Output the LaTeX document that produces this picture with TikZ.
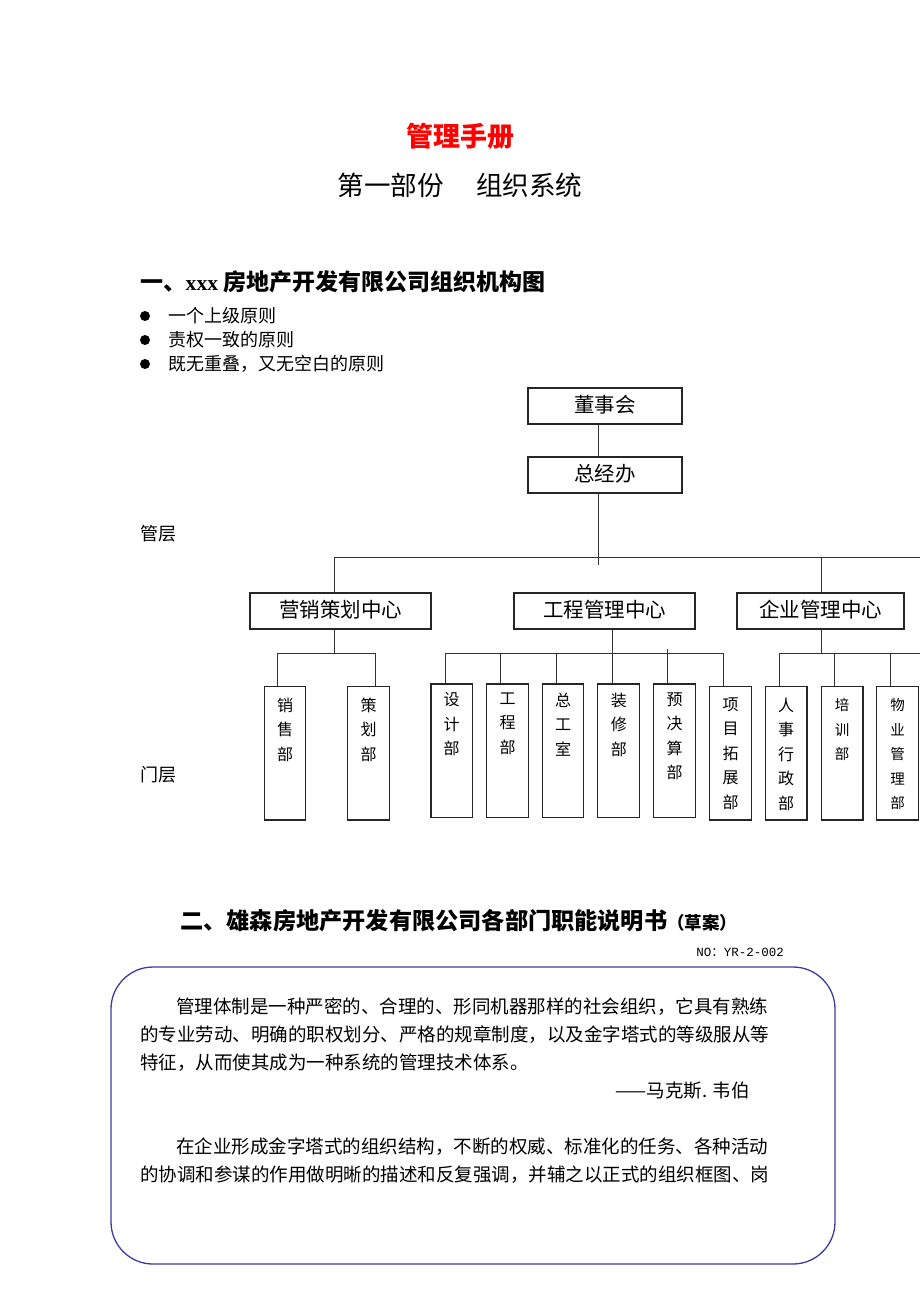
\documentclass[tikz,border=0pt]{standalone}
\usepackage{fontspec}
\setmainfont{Liberation Serif}
\newfontfamily\cjk{Noto Sans CJK SC}
\newfontfamily\monof{Liberation Mono}
\definecolor{boxblue}{RGB}{60,60,160}
\definecolor{titlered}{RGB}{255,0,0}
\tikzset{
  bx/.style={draw=black!85, line width=1.2pt, inner sep=0pt},
  cl/.style={draw=black!80, line width=1pt},
  vt/.style={font=\cjk\fontsize{16}{24.5}\selectfont, align=center, inner sep=0pt, anchor=north},
  vts/.style={font=\cjk\fontsize{14.5}{24.5}\selectfont, align=center, inner sep=0pt, anchor=north},
  ct/.style={font=\cjk\fontsize{20.5}{24}\selectfont, inner sep=0pt},
  bt/.style={font=\cjk\fontsize{18.5}{24}\selectfont, inner sep=0pt, anchor=base west},
  lt/.style={font=\cjk\fontsize{18}{24}\selectfont, inner sep=0pt, anchor=base west},
}
\newcommand\bxnode[6]{%
  \node[bx, minimum width={#4-#2}, minimum height={#5-#3}, #6] (#1) at ({(#2+#4)/2},{(#3+#5)/2}) {};}
\newcommand\dept[8]{%
  \bxnode{#1}{#2}{#3}{#4}{#5}{}
  \node[#8] (#1t) at ({(#2+#4)/2},#7) {#6};}
\begin{document}
\begin{tikzpicture}[x=1pt,y=-1pt]
\useasboundingbox (0,0) rectangle (920,1302);
\fill[white] (0,0) rectangle (920,1302);

% titles
\node[font=\cjk\bfseries\fontsize{27}{30}\selectfont, text=titlered, inner sep=0pt] (title) at (460,136) {管理手册};
\node[font=\cjk\fontsize{26.6}{30}\selectfont, inner sep=0pt] (sub) at (460,185) {第一部份\hspace{32pt}组织系统};

\node[font=\cjk\bfseries\fontsize{23}{26}\selectfont, inner sep=0pt, anchor=base west] (h1) at (140,290)
  {一、\hspace{-0.5pt}{\rmfamily\bfseries\fontsize{21.6}{26}\selectfont xxx}\hspace{5pt}房地产开发有限公司组织机构图};

% bullets
\foreach \yy/\tx [count=\i] in {316/一个上级原则,340/责权一致的原则,364/{既无重叠，又无空白的原则}}{
  \fill (145,\yy) circle (5pt);
  \node[lt] (b\i) at (168,\yy+6.8) {\tx};
}

% side labels
\node[lt] (lg) at (140,540.5) {管层};
\node[lt] (lm) at (140,781.5) {门层};

% top boxes
\bxnode{dsh}{528}{388}{682}{424}{}
\node[ct] (dsht) at (605,405) {董事会};
\bxnode{zjb}{528}{457}{682}{493}{}
\node[ct] (zjbt) at (605,474) {总经办};
\bxnode{yx}{250}{593}{431}{629}{}
\node[ct] (yxt) at (340.5,610) {营销策划中心};
\bxnode{gc}{514}{593}{695}{629}{}
\node[ct] (gct) at (604.5,610) {工程管理中心};
\bxnode{qy}{737}{593}{904}{629}{}
\node[ct] (qyt) at (820.5,610) {企业管理中心};

% bottom boxes
\dept{xs}{264.4}{686.7}{305.8}{820}{销\\售\\部}{697.5}{vt}
\dept{ch}{347.6}{686.7}{389.5}{820}{策\\划\\部}{697.5}{vt}
\dept{sj}{430.9}{684}{472.3}{817.3}{设\\计\\部}{692.5}{vt}
\dept{gcb}{486.8}{684}{528.2}{817.3}{工\\程\\部}{692.5}{vt}
\dept{zgs}{542.3}{684}{583.7}{817.3}{总\\工\\室}{692.5}{vt}
\dept{zx}{597.8}{684}{639.7}{817.3}{装\\修\\部}{692.5}{vt}
\dept{yjs}{653.8}{684}{695.6}{817.3}{预\\决\\算\\部}{692.5}{vt}
\dept{xm}{709.7}{686.7}{751.6}{820}{项\\目\\拓\\展\\部}{697.5}{vt}
\dept{rs}{765.2}{686.7}{807}{820}{人\\事\\行\\政\\部}{697.5}{vt}
\dept{px}{821.2}{686.7}{863}{820}{培\\训\\部}{698.5}{vts}
\dept{wy}{876.7}{686.7}{918.5}{820}{物\\业\\管\\理\\部}{698.5}{vts}

% connectors top
\coordinate (trunk) at (598,565);
\coordinate (hL) at (334,557);
\coordinate (hR) at (920,557);
\coordinate (hq) at (821,557);
\draw[cl] (dsh.south -| trunk) -- (zjb.north -| trunk);
\draw[cl] (zjb.south -| trunk) -- (trunk);
\draw[cl] (hL) -- (hR);
\draw[cl] (hL) -- (yx.north -| hL);
\draw[cl] (hq) -- (qy.north -| hq);

% group 1
\coordinate (a1) at (277.6,653);
\coordinate (a2) at (375.4,653);
\coordinate (a0) at (334,653);
\draw[cl] (yx.south -| a0) -- (a0);
\draw[cl] (a1) -- (a2);
\draw[cl] (a1) -- (xs.north -| a1);
\draw[cl] (a2) -- (ch.north -| a2);

% group 2
\coordinate (g1) at (445.9,653);
\coordinate (g2) at (500.9,653);
\coordinate (g3) at (556.4,653);
\coordinate (g4) at (612.4,653);
\coordinate (g5) at (667.4,649);
\coordinate (g6) at (723.4,653);
\draw[cl] (g1) -- (g6);
\draw[cl] (g1) -- (sj.north -| g1);
\draw[cl] (g2) -- (gcb.north -| g2);
\draw[cl] (g3) -- (zgs.north -| g3);
\draw[cl] (gc.south -| g4) -- (zx.north -| g4);
\draw[cl] (g5) -- (yjs.north -| g5);
\draw[cl] (g6) -- (xm.north -| g6);

% group 3
\coordinate (q1) at (779.3,653);
\coordinate (q2) at (834.8,653);
\coordinate (q3) at (890.8,653);
\coordinate (q4) at (920,653);
\coordinate (q0) at (821,653);
\draw[cl] (qy.south -| q0) -- (q0);
\draw[cl] (q1) -- (q4);
\draw[cl] (q1) -- (rs.north -| q1);
\draw[cl] (q2) -- (px.north -| q2);
\draw[cl] (q3) -- (wy.north -| q3);

% section 2
\node[font=\cjk\bfseries\fontsize{23.2}{26}\selectfont, inner sep=0pt, anchor=base west] (h2) at (180,929)
  {二、雄森房地产开发有限公司各部门职能说明书{\fontsize{17.5}{20}\selectfont（草案）}};
\node[inner sep=0pt, anchor=base east, font=\monof\fontsize{12.5}{14}\selectfont] (no) at (784,956.5) {NO{\cjk ：}YR-2-002};

\draw[draw=boxblue, line width=1.3pt, rounded corners=42pt] (111,967) rectangle (835,1264);

\node[bt] (p1) at (176,1013) {管理体制是一种严密的、合理的、形同机器那样的社会组织，它具有熟练};
\node[bt] (p2) at (140,1041) {的专业劳动、明确的职权划分、严格的规章制度，以及金字塔式的等级服从等};
\node[bt] (p3) at (140,1069) {特征，从而使其成为一种系统的管理技术体系。};
\node[bt, anchor=base east] (p4) at (750,1097) {——马克斯. 韦伯};
\node[bt] (p5) at (176,1153) {在企业形成金字塔式的组织结构，不断的权威、标准化的任务、各种活动};
\node[bt] (p6) at (140,1181) {的协调和参谋的作用做明晰的描述和反复强调，并辅之以正式的组织框图、岗};
\end{tikzpicture}
\end{document}
